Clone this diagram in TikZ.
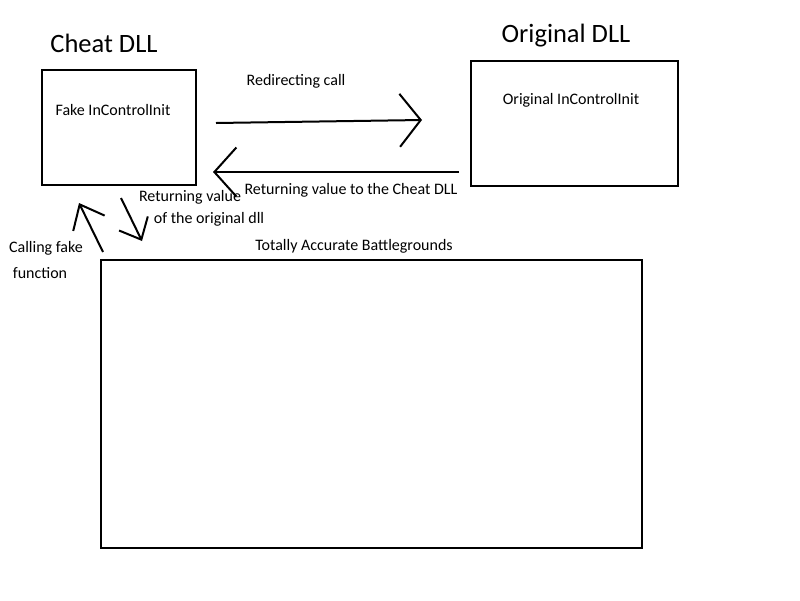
\documentclass[tikz,border=0pt]{standalone}
\usepackage{fontspec}
\setmainfont{Carlito}
\usetikzlibrary{arrows.meta}
\begin{document}
\begin{tikzpicture}[x=1pt,y=-1pt]
        \tikzstyle{every node}=[font=\fontsize{16}{19}\selectfont,inner sep=0pt]
        \tikzstyle{dllbox}=[draw,line width=2pt]
        \tikzstyle{title}=[font=\fontsize{26.5}{31}\selectfont]
        \tikzstyle{call}=[line width=2pt]
        \useasboundingbox (0,0) rectangle (800,600);
        % the two dlls
        \node[title] (cheattitle) at (104,43) {Cheat DLL};
        \node[dllbox,minimum width=154pt,minimum height=115pt] (cheat) at (119,127.5) {};
        \node (fake) at (113,110) {Fake InControlInit};
        \node[title] (origtitle) at (566,36) {Original DLL};
        \node[dllbox,minimum width=207pt,minimum height=125pt] (orig) at (574.5,123.5) {};
        \node (original) at (571,100) {Original InControlInit};
        % the game
        \node (game) at (354,246) {Totally Accurate Battlegrounds};
        \node[dllbox,minimum width=541pt,minimum height=288pt] (tab) at (371.5,404) {};
        % calls
        \coordinate (rs) at (216,123);
        \coordinate (re) at (422,120);
        \coordinate (ls) at (459,172);
        \coordinate (le) at (213,172);
        \coordinate (us) at (103,252);
        \coordinate (ue) at (79,203);
        \coordinate (ds) at (121,198);
        \coordinate (de) at (142,241);
        \draw[call,-{Straight Barb[length=21pt,width=53pt]}] (rs) -- (re);
        \draw[call,-{Straight Barb[length=22pt,width=49pt]}] (ls) -- (le);
        \draw[call,-{Straight Barb[length=21pt,width=35pt]}] (us) -- (ue);
        \draw[call,-{Straight Barb[length=18pt,width=32pt]}] (ds) -- (de);
        \node (redirect) at (296,81) {Redirecting call};
        \node (back) at (351,190) {Returning value to the Cheat DLL};
        \node (ret1) at (190,197) {Returning value};
        \node (ret2) at (209,219) {of the original dll};
        \node (calling1) at (46,248) {Calling fake};
        \node (calling2) at (40,273) {function};
\end{tikzpicture}
\end{document}
